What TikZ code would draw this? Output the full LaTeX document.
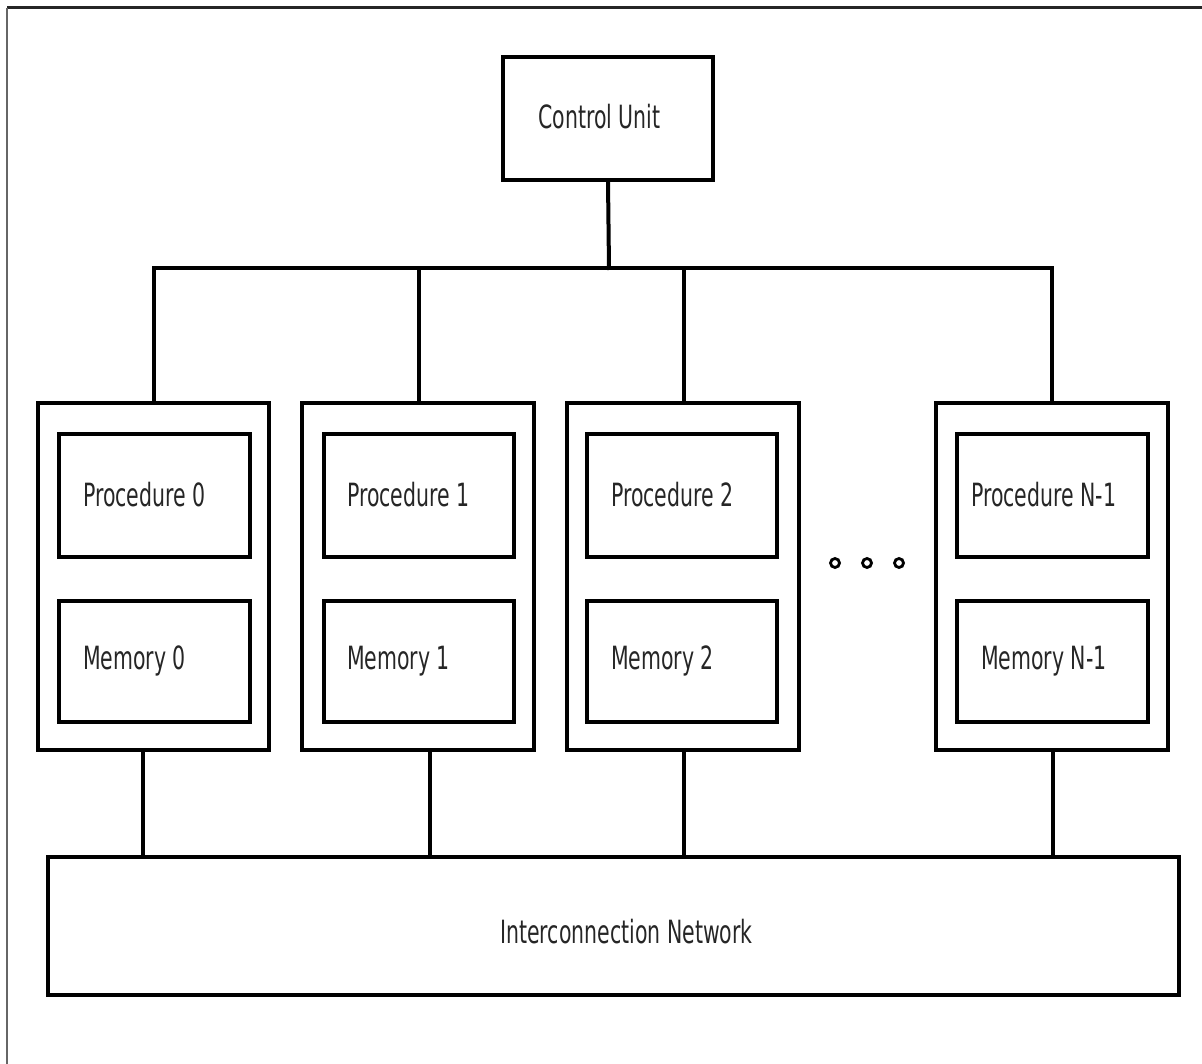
\documentclass[tikz,border=0pt]{standalone}
\usepackage{fontspec}
\usepackage{graphicx}
\setmainfont{DejaVu Sans}
\usetikzlibrary{calc}

% narrow, tall lettering used for every label
\newcommand{\lbltext}[1]{\scalebox{0.64}[1]{#1}}

\tikzset{
  blockbox/.style={draw=black, line width=3.2pt, inner sep=0pt},
  lbl/.style={font=\fontsize{32}{32}\selectfont, inner sep=0pt, text=black!85},
  wire/.style={line width=4pt, line cap=rect},
  dotmark/.style={draw=black, line width=2.8pt, circle, minimum size=9pt, inner sep=0pt},
}

\begin{document}
\begin{tikzpicture}[x=1pt, y=-1pt]
  \useasboundingbox (0,0) rectangle (1202,1064);
  \fill[white] (0,0) rectangle (1202,1064);

  % surrounding frame (top and left edges)
  \draw[line width=3pt, black!85] (7,8) -- (1202,8);
  \draw[line width=2pt, black!60] (7,8) -- (7,1064);

  % control unit
  \node[blockbox, minimum width=210pt, minimum height=123pt] (cu) at (608,118.5) {};
  \node[lbl, anchor=west] (cutxt) at (538,117) {\lbltext{Control Unit}};

  % processing elements: outer boxes
  \node[blockbox, minimum width=231pt, minimum height=347pt] (pe0) at (153.5,576.5) {};
  \node[blockbox, minimum width=232pt, minimum height=347pt] (pe1) at (418,576.5) {};
  \node[blockbox, minimum width=232pt, minimum height=347pt] (pe2) at (683,576.5) {};
  \node[blockbox, minimum width=232pt, minimum height=347pt] (pen) at (1052,576.5) {};

  % processor and memory boxes
  \node[blockbox, minimum width=191pt, minimum height=123pt] (pr0) at (154.5,495.5) {};
  \node[blockbox, minimum width=191pt, minimum height=121pt] (m0)  at (154.5,661.5) {};
  \node[blockbox, minimum width=190pt, minimum height=123pt] (pr1) at (419,495.5) {};
  \node[blockbox, minimum width=190pt, minimum height=121pt] (m1)  at (419,661.5) {};
  \node[blockbox, minimum width=190pt, minimum height=123pt] (pr2) at (682,495.5) {};
  \node[blockbox, minimum width=190pt, minimum height=121pt] (m2)  at (682,661.5) {};
  \node[blockbox, minimum width=191pt, minimum height=123pt] (prn) at (1052.5,495.5) {};
  \node[blockbox, minimum width=191pt, minimum height=121pt] (mn)  at (1052.5,661.5) {};

  \node[lbl, anchor=west] (pr0txt) at (83,495)  {\lbltext{Procedure 0}};
  \node[lbl, anchor=west] (m0txt)  at (83,661)  {\lbltext{Memory 0}};
  \node[lbl, anchor=west] (pr1txt) at (347,495) {\lbltext{Procedure 1}};
  \node[lbl, anchor=west] (m1txt)  at (347,661) {\lbltext{Memory 1}};
  \node[lbl, anchor=west] (pr2txt) at (611,495) {\lbltext{Procedure 2}};
  \node[lbl, anchor=west] (m2txt)  at (611,661) {\lbltext{Memory 2}};
  \node[lbl, anchor=west] (prntxt) at (971,495) {\lbltext{Procedure N-1}};
  \node[lbl, anchor=west] (mntxt)  at (981,661) {\lbltext{Memory N-1}};

  % ellipsis between the processing elements
  \node[dotmark] (d1) at (835,563) {};
  \node[dotmark] (d2) at (867,563) {};
  \node[dotmark] (d3) at (899,563) {};

  % interconnection network
  \node[blockbox, minimum width=1131pt, minimum height=138pt] (net) at (613.5,926) {};
  \node[lbl] (nettxt) at (626.5,932) {\lbltext{Interconnection Network}};

  % broadcast bus from the control unit
  \coordinate (bus) at (609,268);
  \draw[wire] (cu.south) -- (bus);
  \draw[wire] (pe0.north |- bus) -- (pen.north |- bus);
  \draw[wire] (pe0.north |- bus) -- (pe0.north);
  \draw[wire] ([xshift=1pt]pe1.north |- bus) -- ([xshift=1pt]pe1.north);
  \draw[wire] ([xshift=1pt]pe2.north |- bus) -- ([xshift=1pt]pe2.north);
  \draw[wire] (pen.north |- bus) -- (pen.north);

  % links to the interconnection network
  \draw[wire] ([xshift=-10.5pt]pe0.south) -- ([xshift=-10.5pt]pe0.south |- net.north);
  \draw[wire] ([xshift=12pt]pe1.south) -- ([xshift=12pt]pe1.south |- net.north);
  \draw[wire] ([xshift=1pt]pe2.south) -- ([xshift=1pt]pe2.south |- net.north);
  \draw[wire] ([xshift=1pt]pen.south) -- ([xshift=1pt]pen.south |- net.north);
\end{tikzpicture}
\end{document}
